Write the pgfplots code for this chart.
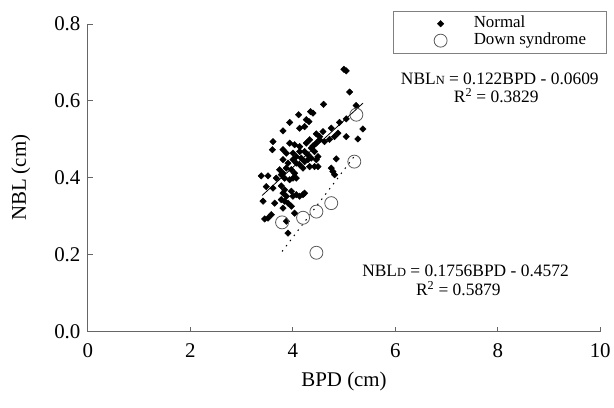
\documentclass[border=0pt]{standalone}
\usepackage{fontspec}
\setmainfont{Liberation Serif}
\usepackage{pgfplots}
\pgfplotsset{compat=1.18}
\begin{document}
\begin{tikzpicture}
\begin{axis}[
  name=main,
  scale only axis, width=513bp, height=308bp,
  xmin=0, xmax=10, ymin=0, ymax=0.8,
  axis lines=left,
  axis line style={-, draw=black!60, line width=0.8bp},
  every outer x axis line/.append style={-},
  every outer y axis line/.append style={-},
  tick align=inside,
  major tick length=5bp,
  tick style={draw=black!60, line width=0.8bp},
  xtick={0,2,4,6,8,10},
  ytick={0,0.2,0.4,0.6,0.8},
  minor tick num=0,
  ticklabel style={font=\fontsize{21}{21}\selectfont},
  /pgf/number format/assume math mode=true,
  yticklabel style={/pgf/number format/.cd, fixed, fixed zerofill, precision=1, /tikz/.cd, xshift=-4bp},
  xticklabel style={yshift=-9bp},
  xlabel={BPD (cm)},
  ylabel={NBL (cm)},
  label style={font=\fontsize{21}{21}\selectfont},
  xlabel style={at={([yshift=-37bp]axis description cs:0.5,0)}, anchor=north},
  ylabel style={at={([xshift=-67bp]axis description cs:0,0.5)}, anchor=center, rotate=0},
  legend cell align=left,
  legend image code/.code={\path (0bp,0bp) (80bp,0bp); \draw[#1] plot coordinates {(47bp,0bp)};},
  legend style={at={([xshift=6bp,yshift=13bp]rel axis cs:1,1)}, anchor=north east,
    draw=black!50, font=\fontsize{17}{17}\selectfont, inner xsep=0bp, inner ysep=4.5bp,
    row sep=1bp, nodes={inner sep=0bp, text height=12bp, text depth=4bp}},
]
\addplot[only marks, mark=square*, mark size=2.3pt, mark options={rotate=45, fill=black, draw=black}] coordinates {
(4.997,0.682)(5.042,0.678)(5.107,0.623)(4.600,0.591)(5.237,0.588)(4.347,0.572)(4.393,0.568)
(4.113,0.564)(4.263,0.551)(4.315,0.546)(3.938,0.544)(4.230,0.533)(4.133,0.529)(4.912,0.544)
(5.042,0.553)(3.808,0.522)(4.588,0.520)(4.750,0.529)(5.367,0.527)(4.458,0.514)(4.523,0.507)
(5.042,0.507)(5.270,0.501)(3.613,0.494)(4.328,0.499)(3.938,0.490)(4.035,0.486)(4.133,0.481)
(4.263,0.490)(4.393,0.483)(4.523,0.499)(4.458,0.490)(4.620,0.494)(4.717,0.500)(4.815,0.507)
(4.880,0.516)(3.600,0.473)(3.808,0.473)(3.873,0.464)(4.003,0.464)(4.068,0.455)(4.133,0.468)
(4.230,0.468)(4.295,0.460)(4.360,0.477)(4.425,0.468)(4.490,0.455)(3.808,0.447)(3.905,0.438)
(4.003,0.447)(4.068,0.438)(4.165,0.451)(4.230,0.442)(4.295,0.447)(4.360,0.451)(4.458,0.447)
(4.847,0.449)(4.490,0.429)(3.743,0.421)(3.808,0.412)(3.873,0.425)(3.970,0.421)(4.035,0.412)
(4.133,0.434)(4.198,0.425)(4.328,0.429)(4.425,0.429)(3.385,0.405)(3.515,0.405)(3.678,0.399)
(3.775,0.408)(3.840,0.399)(3.938,0.395)(4.003,0.399)(4.068,0.399)(3.613,0.373)(3.483,0.377)
(3.775,0.379)(3.840,0.369)(3.970,0.365)(4.782,0.416)(4.815,0.408)(4.750,0.425)(3.808,0.360)
(3.873,0.352)(3.775,0.343)(4.003,0.352)(4.068,0.356)(4.133,0.352)(4.198,0.356)(4.230,0.360)
(3.418,0.339)(3.645,0.334)(3.840,0.339)(3.905,0.334)(3.970,0.326)(3.808,0.321)(3.580,0.304)
(3.515,0.295)(3.450,0.293)(4.035,0.308)(3.873,0.287)(3.905,0.256)
};
\addlegendentry{Normal}
\addplot[only marks, mark=o, mark size=6.5bp, mark options={draw=black!65, line width=0.8bp, fill=none}] coordinates {
(5.24,0.564)(5.20,0.442)(4.75,0.334)(4.46,0.312)(4.20,0.296)(3.79,0.284)(4.46,0.205)
};
\addlegendentry{Down syndrome\hspace*{20bp}}
\addplot[black, line width=0.8bp, forget plot] coordinates {(3.40,0.3539)(5.37,0.5942)};
\addplot[black, line width=1bp, dash pattern=on 1.5bp off 5bp, forget plot] coordinates {(3.79,0.2083)(5.24,0.4629)};
\node[anchor=base, font=\fontsize{17.5}{17.5}\selectfont] at (axis cs:8.04,0.642) {NBL{\fontsize{12.5}{12.5}\selectfont N} = 0.122BPD - 0.0609};
\node[anchor=base, font=\fontsize{17.5}{17.5}\selectfont] at (axis cs:7.97,0.595) {R\textsuperscript{2} = 0.3829};
\node[anchor=base, font=\fontsize{17.5}{17.5}\selectfont] at (axis cs:7.37,0.1437) {NBL{\fontsize{12.5}{12.5}\selectfont D} = 0.1756BPD - 0.4572};
\node[anchor=base, font=\fontsize{17.5}{17.5}\selectfont] at (axis cs:7.23,0.0935) {R\textsuperscript{2} = 0.5879};
\end{axis}
\path (main.south west) ++(-88bp,-76bp) coordinate (bbsw);
\path (main.north east) ++(13bp,24bp) coordinate (bbne);
\path[use as bounding box] (bbsw) rectangle (bbne);
\end{tikzpicture}
\end{document}
